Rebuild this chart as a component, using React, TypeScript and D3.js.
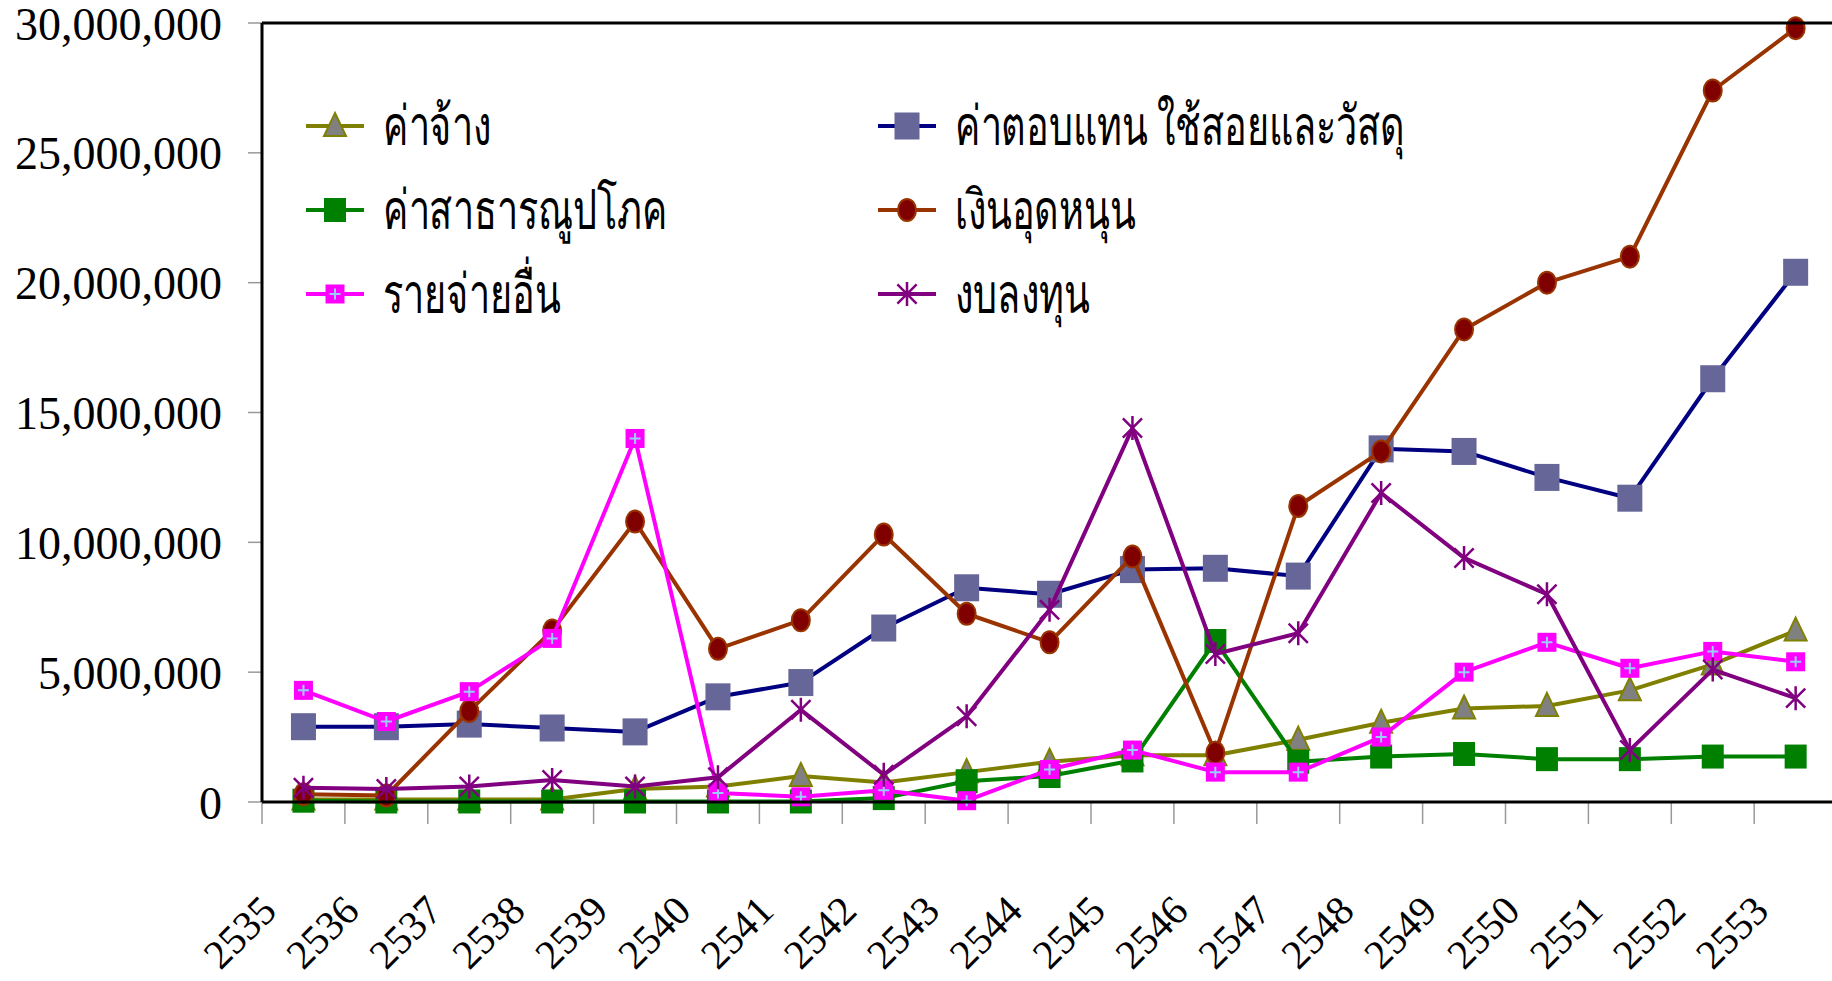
import * as d3 from 'd3';
import React from 'react';

const years = ['2535', '2536', '2537', '2538', '2539', '2540', '2541', '2542', '2543', '2544',
    '2545', '2546', '2547', '2548', '2549', '2550', '2551', '2552', '2553'];

// values in millions of baht
const wages = [0.1, 0.1, 0.1, 0.1, 0.5, 0.6, 1.0, 0.75, 1.15, 1.55, 1.8, 1.8, 2.4, 3.05, 3.6, 3.7, 4.3, 5.3, 6.6];
const materials = [2.9, 2.9, 3.0, 2.85, 2.7, 4.05, 4.6, 6.7, 8.25, 8.0, 8.95, 9.0, 8.7, 13.6, 13.5, 12.5, 11.7, 16.3, 20.4];
const utilities = [0.05, 0.02, 0.02, 0.02, 0.02, 0.02, 0.02, 0.15, 0.8, 1.0, 1.6, 6.2, 1.55, 1.75, 1.85, 1.65, 1.65, 1.75, 1.75];
const subsidies = [0.3, 0.25, 3.5, 6.6, 10.8, 5.9, 7.0, 10.3, 7.25, 6.15, 9.45, 1.9, 11.4, 13.5, 18.2, 20.0, 21.0, 27.4, 29.8];
const others = [4.3, 3.1, 4.25, 6.3, 14.0, 0.35, 0.2, 0.45, 0.05, 1.25, 2.0, 1.15, 1.15, 2.5, 5.0, 6.15, 5.15, 5.8, 5.4];
const investment = [0.55, 0.5, 0.6, 0.85, 0.6, 0.95, 3.55, 1.05, 3.3, 7.4, 14.4, 5.7, 6.5, 11.9, 9.4, 8.0, 2.0, 5.1, 4.0];

const yTicks = [0, 5000000, 10000000, 15000000, 20000000, 25000000, 30000000];

type Marker = 'triangle' | 'square' | 'circle' | 'plus' | 'star';

interface Series {
    name: string;
    values: number[];
    line: string;
    marker: Marker;
    fill: string;
    stroke: string;
    size: number;
}

const series: Series[] = [
    { name: 'ค่าจ้าง', values: wages, line: '#808000', marker: 'triangle', fill: '#808080', stroke: '#808000', size: 22 },
    { name: 'ค่าตอบแทน ใช้สอยและวัสดุ', values: materials, line: '#000080', marker: 'square', fill: '#666699', stroke: '#666699', size: 25 },
    { name: 'ค่าสาธารณูปโภค', values: utilities, line: '#008000', marker: 'square', fill: '#008000', stroke: '#008000', size: 22 },
    { name: 'เงินอุดหนุน', values: subsidies, line: '#993300', marker: 'circle', fill: '#800000', stroke: '#993300', size: 20 },
    { name: 'รายจ่ายอื่น', values: others, line: '#FF00FF', marker: 'plus', fill: '#FF00FF', stroke: '#99CCFF', size: 19 },
    { name: 'งบลงทุน', values: investment, line: '#800080', marker: 'star', fill: 'none', stroke: '#800080', size: 24 },
];

const W = 1832;
const H = 981;
const left = 262;
const top = 23;
const bottom = 802;

const MarkerShape: React.FC<{ s: Series; x: number; y: number }> = ({ s, x, y }) => {
    const h = s.size / 2;
    switch (s.marker) {
        case 'triangle':
            return <path d={`M${x},${y - h - 2}L${x + h},${y + h - 1}L${x - h},${y + h - 1}Z`} fill={s.fill} stroke={s.stroke} strokeWidth={2} />;
        case 'square':
            return <rect x={x - h} y={y - h - 1} width={s.size} height={s.size + 2} fill={s.fill} />;
        case 'circle':
            return <ellipse cx={x} cy={y} rx={h - 1} ry={h + 1} fill={s.fill} stroke={s.stroke} strokeWidth={2} />;
        case 'plus':
            return (
                <g>
                    <rect x={x - h} y={y - h} width={s.size} height={s.size} fill={s.fill} />
                    <path d={`M${x - h + 4},${y}H${x + h - 4}M${x},${y - h + 4}V${y + h - 4}`} stroke={s.stroke} strokeWidth={2} />
                </g>
            );
        case 'star':
            return (
                <path
                    d={`M${x},${y - h}V${y + h}M${x - h * 0.8},${y - h * 0.8}L${x + h * 0.8},${y + h * 0.8}M${x + h * 0.8},${y - h * 0.8}L${x - h * 0.8},${y + h * 0.8}`}
                    stroke={s.stroke}
                    strokeWidth={2.5}
                    fill="none"
                />
            );
    }
};

const App: React.FC = () => {
    const x = d3.scaleBand<string>().domain(years).range([left, left + 19 * 82.9]).padding(0);
    const y = d3.scaleLinear().domain([0, 30000000]).range([bottom, top]);
    const cx = (yr: string) => x(yr)! + x.bandwidth() / 2;
    const fmt = d3.format(',');

    const line = d3
        .line<number>()
        .x((_, i) => cx(years[i]))
        .y(d => y(d * 1e6));

    const legendRows = [126, 210, 294];
    const legendCols = [306, 878];

    return (
        <svg width={W} height={H} style={{ position: 'absolute', left: 0, top: 0, background: '#fff' }}>
            <rect width={W} height={H} fill="#fff" />

            {/* y axis ticks + labels */}
            {yTicks.map(t => (
                <g key={t}>
                    <line x1={left - 14} x2={left} y1={y(t)} y2={y(t)} stroke="#999" strokeWidth={1.5} />
                    <text x={222} y={y(t)} dy="0.36em" textAnchor="end" fontFamily="'Liberation Serif', serif" fontSize={46}>
                        {fmt(t)}
                    </text>
                </g>
            ))}

            {/* x ticks */}
            {years.map(yr => (
                <line key={yr} x1={x(yr)} x2={x(yr)} y1={bottom} y2={bottom + 22} stroke="#999" strokeWidth={1.5} />
            ))}

            {/* x labels */}
            {years.map(yr => (
                <text
                    key={yr}
                    transform={`translate(${cx(yr) - 25},${bottom + 111}) rotate(-45)`}
                    textAnchor="end"
                    fontFamily="'Liberation Serif', serif"
                    fontSize={41}
                >
                    {yr}
                </text>
            ))}

            {/* series */}
            {series.map(s => (
                <g key={s.name}>
                    <path d={line(s.values)!} fill="none" stroke={s.line} strokeWidth={4} strokeLinejoin="round" />
                    {s.values.map((v, i) => (
                        <MarkerShape key={i} s={s} x={cx(years[i])} y={y(v * 1e6)} />
                    ))}
                </g>
            ))}

            {/* frame */}
            <line x1={left} x2={W} y1={top} y2={top} stroke="#000" strokeWidth={3} />
            <line x1={left} x2={left} y1={top} y2={bottom} stroke="#000" strokeWidth={3} />
            <line x1={left} x2={W} y1={bottom} y2={bottom} stroke="#000" strokeWidth={3} />

            {/* legend */}
            {series.map((s, i) => {
                const lx = legendCols[i % 2];
                const ly = legendRows[Math.floor(i / 2)];
                return (
                    <g key={s.name}>
                        <line x1={lx} x2={lx + 58} y1={ly} y2={ly} stroke={s.line} strokeWidth={4} />
                        <MarkerShape s={s} x={lx + 29} y={ly} />
                        <text
                            transform={`translate(${lx + 77},${ly}) scale(0.86,1.25)`}
                            dy="0.35em"
                            fontFamily="'Liberation Serif', serif"
                            fontWeight={300}
                            fontSize={44}
                        >
                            {s.name}
                        </text>
                    </g>
                );
            })}
        </svg>
    );
};

export default App;
